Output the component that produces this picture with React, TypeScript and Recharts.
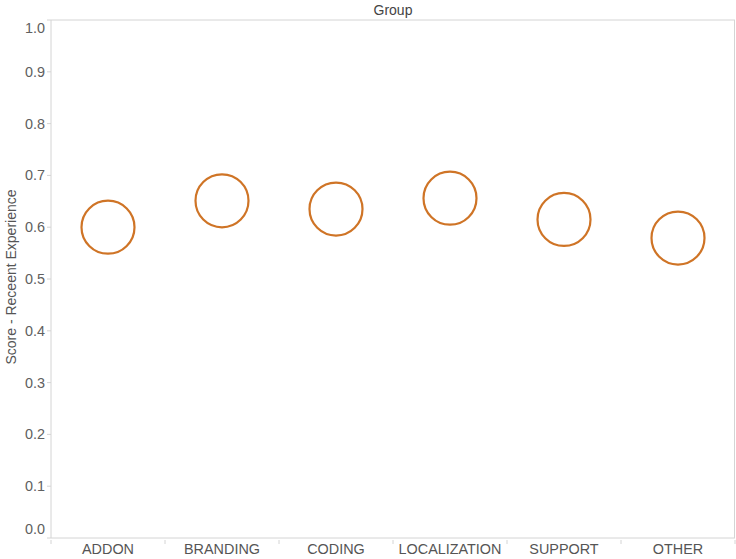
import React from 'react';
import { ComposedChart, Scatter, XAxis, YAxis, ReferenceLine } from 'recharts';

const groups = ['ADDON', 'BRANDING', 'CODING', 'LOCALIZATION', 'SUPPORT', 'OTHER'];
const scores = [0.6, 0.651, 0.635, 0.656, 0.615, 0.579];
const yTicks = [0, 0.1, 0.2, 0.3, 0.4, 0.5, 0.6, 0.7, 0.8, 0.9, 1.0];

const data = groups.map((group, i) => ({ group, score: scores[i] }));

const font = '"Liberation Sans", Arial, sans-serif';
const axisGrey = '#d4d4d4';
const ring = '#cf7426';

const Ring = (props: any) => {
  const { cx, cy } = props;
  if (cx == null || cy == null) return null;
  return <circle cx={cx} cy={cy} r={26.5} fill="none" stroke={ring} strokeWidth={2.2} />;
};

const GroupTick = (props: any) => {
  const { x, y, payload, index, width, visibleTicksCount } = props;
  const half = width / visibleTicksCount / 2;
  return (
    <g>
      {index === 0 && <line x1={x - half} x2={x - half} y1={y - 6} y2={y - 2} stroke={axisGrey} />}
      <line x1={x + half} x2={x + half} y1={y - 6} y2={y - 2} stroke={axisGrey} />
      <text x={x} y={y + 8} textAnchor="middle" fontSize={14.4} fill="#555" fontFamily={font}>
        {payload.value}
      </text>
    </g>
  );
};

const ScoreTick = (props: any) => {
  const { x, y, payload } = props;
  let shift = 5;
  if (payload.value === 1) shift = 13;
  if (payload.value === 0) shift = -4;
  return (
    <text x={x} y={y + shift} textAnchor="end" fontSize={14.4} fill="#606060" fontFamily={font}>
      {payload.value.toFixed(1)}
    </text>
  );
};

const App = () => {
  return (
    <div style={{ position: 'absolute', left: 0, top: 0, width: 736, height: 559, background: '#fff' }}>
      <div
        style={{
          position: 'absolute',
          left: 51,
          width: 684,
          top: 2,
          textAlign: 'center',
          fontFamily: font,
          fontSize: 14,
          color: '#444',
        }}
      >
        Group
      </div>
      <div
        style={{
          position: 'absolute',
          left: 11,
          top: 277,
          transform: 'translate(-50%, -50%) rotate(-90deg)',
          whiteSpace: 'nowrap',
          fontFamily: font,
          fontSize: 14,
          color: '#555',
        }}
      >
        Score - Receent Experience
      </div>
      <ComposedChart
        width={736}
        height={559}
        data={data}
        margin={{ top: 20, right: 1, bottom: 0, left: 0 }}
      >
        <XAxis
          dataKey="group"
          type="category"
          scale="band"
          height={21}
          axisLine={{ stroke: axisGrey }}
          tickLine={false}
          tick={<GroupTick />}
          interval={0}
        />
        <YAxis
          type="number"
          domain={[0, 1]}
          ticks={yTicks}
          width={51}
          tickSize={4}
          axisLine={{ stroke: axisGrey }}
          tickLine={{ stroke: axisGrey }}
          tick={<ScoreTick />}
          interval={0}
        />
        <ReferenceLine y={1} stroke={axisGrey} />
        <Scatter dataKey="score" shape={<Ring />} isAnimationActive={false} />
      </ComposedChart>
      <div style={{ position: 'absolute', left: 734, top: 20, width: 1, height: 518, background: axisGrey }} />
    </div>
  );
};

export default App;
